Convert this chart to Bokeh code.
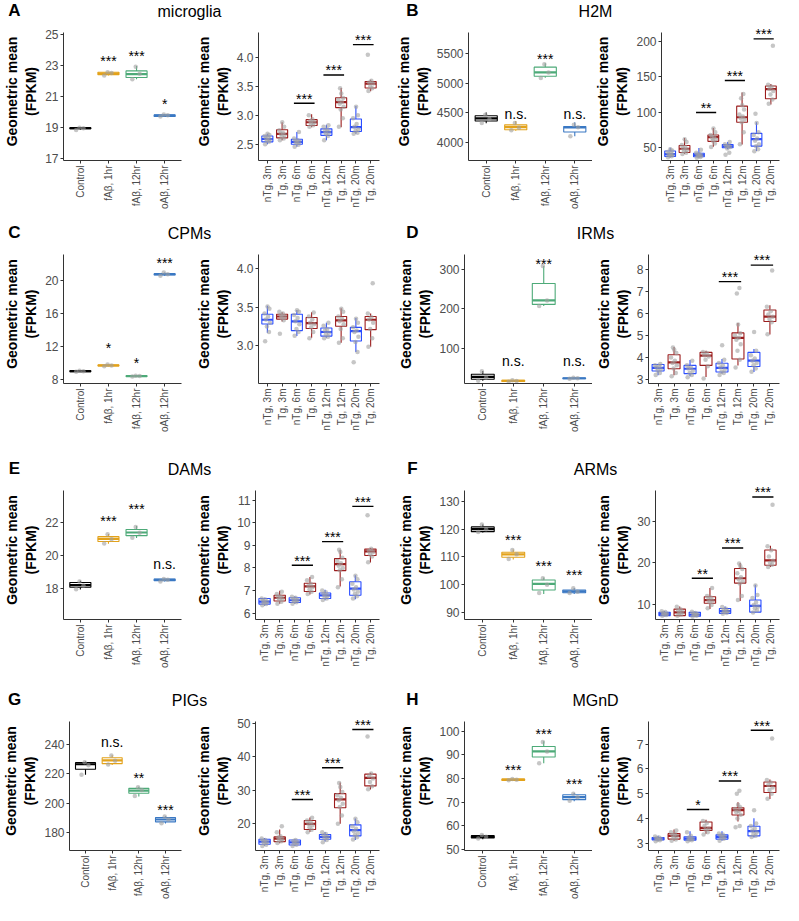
import math
from bokeh.plotting import figure
from bokeh.layouts import row, column
from bokeh.models import Range1d, FixedTicker, ColumnDataSource
from bokeh.embed import file_html
from bokeh.resources import INLINE
from bokeh.core.properties import value

FONT = "Liberation Sans"

LEFT_CATS = ["Control", "fAβ, 1hr", "fAβ, 12hr", "oAβ, 12hr"]
RIGHT_CATS = ["nTg, 3m", "Tg, 3m", "nTg, 6m", "Tg, 6m", "nTg, 12m", "Tg, 12m", "nTg, 20m", "Tg, 20m"]
LEFT_COLORS = ["#000000", "#E3A21A", "#4DAA78", "#3A78C3"]
RIGHT_COLORS = ["#2A4DFF", "#9B1C1C", "#2A4DFF", "#9B1C1C", "#2A4DFF", "#9B1C1C", "#2A4DFF", "#9B1C1C"]
Y_LABEL = "Geometric mean\n(FPKM)"

# ---------------- A: microglia ----------------
A_L_box = [[18.86, 18.93, 18.97, 19.0, 19.02], [22.35, 22.4, 22.47, 22.55, 22.58],
           [22.1, 22.22, 22.43, 22.64, 22.96], [19.7, 19.72, 19.78, 19.82, 19.86]]
A_L_pts = [[18.86, 18.97, 19.0], [22.35, 22.5, 22.55], [22.1, 22.45, 22.9], [19.72, 19.8, 19.85]]
A_L_sig = ["", "***", "***", "*"]
A_L_sig_y = [None, 23.74, 24.05, 21.0]
A_L_yr = [16.9, 25.1]
A_L_ticks = [17, 19, 21, 23, 25]
A_R_box = [[2.5, 2.54, 2.59, 2.642, 2.68], [2.57, 2.61, 2.68, 2.75, 2.88], [2.455, 2.5, 2.54, 2.585, 2.71],
           [2.795, 2.823, 2.88, 2.925, 3.02], [2.57, 2.653, 2.71, 2.766, 2.835], [2.795, 3.134, 3.23, 3.304, 3.474],
           [2.68, 2.72, 2.795, 2.936, 3.16], [3.417, 3.474, 3.55, 3.587, 3.615]]
A_R_pts = [[2.5, 2.54, 2.56, 2.58, 2.6, 2.62, 2.64, 2.66, 2.68],
           [2.57, 2.6, 2.63, 2.66, 2.68, 2.7, 2.74, 2.8, 2.88],
           [2.455, 2.49, 2.52, 2.54, 2.55, 2.57, 2.6, 2.71],
           [2.8, 2.83, 2.86, 2.88, 2.9, 2.93, 3.0],
           [2.57, 2.64, 2.68, 2.71, 2.73, 2.76, 2.8, 2.83],
           [2.8, 2.95, 3.1, 3.15, 3.2, 3.23, 3.27, 3.3, 3.38, 3.47],
           [2.68, 2.7, 2.73, 2.76, 2.8, 2.85, 2.95, 3.0, 3.15],
           [3.42, 3.47, 3.5, 3.55, 3.57, 3.6, 4.05]]
A_R_sig = ["", "***", "***", "***"]
A_R_sig_y = [None, 3.21, 3.70, 4.226]
A_R_yr = [2.217, 4.436]
A_R_ticks = [2.5, 3.0, 3.5, 4.0]

# ---------------- B: H2M ----------------
B_L_box = [[4327, 4365, 4409, 4453, 4507], [4202, 4218, 4262, 4300, 4365],
           [5091, 5118, 5184, 5271, 5336], [4109, 4180, 4256, 4273, 4344]]
B_L_pts = [[4330, 4400, 4470], [4210, 4250, 4330], [5090, 5180, 5320], [4110, 4260, 4300]]
B_L_sig = ["", "n.s.", "***", "n.s."]
B_L_sig_y = [None, 4545, 5527, 4545]
B_L_yr = [3700, 5854]
B_L_ticks = [4000, 4500, 5000, 5500]
B_R_box = [[36.4, 37.8, 41, 45.5, 50], [41, 43.2, 48.6, 53.2, 63.6], [36.4, 37.3, 39.6, 42.3, 49.5],
           [51.4, 59, 65, 68, 78], [48, 50, 52, 54.5, 58], [54.5, 86, 93, 108.7, 128],
           [45.5, 52.3, 62.2, 70.3, 86], [111, 119.1, 132.7, 137.2, 140]]
B_R_pts = [[36.5, 38, 39, 40, 41, 42, 44, 46, 48],
           [41, 43, 45, 47, 49, 51, 54, 58, 62],
           [36, 37, 38, 39, 40, 41, 43, 47],
           [51, 56, 60, 62, 64, 66, 68, 72, 77],
           [40, 43, 49, 51, 52, 53, 55, 58],
           [55, 72, 86, 90, 92, 94, 97, 104, 110, 120, 126],
           [45, 48, 52, 55, 60, 63, 68, 72, 85, 98],
           [112, 118, 125, 130, 133, 136, 139, 194]]
B_R_sig = ["", "**", "***", "***"]
B_R_sig_y = [None, 99.7, 144.9, 203.6]
B_R_yr = [32, 212.6]
B_R_ticks = [50, 100, 150, 200]

# ---------------- C: CPMs ----------------
C_L_box = [[8.98, 9.0, 9.05, 9.1, 9.12], [9.65, 9.7, 9.75, 9.8, 9.85],
           [8.4, 8.42, 8.46, 8.5, 8.52], [20.6, 20.7, 20.8, 20.85, 21.0]]
C_L_pts = [[8.98, 9.05, 9.1], [9.65, 9.75, 9.85], [8.4, 8.46, 8.5], [20.6, 20.8, 21.0]]
C_L_sig = ["", "*", "*", "***"]
C_L_sig_y = [None, 12.73, 10.98, 23.06]
C_L_yr = [7.56, 23.18]
C_L_ticks = [8, 12, 16, 20]
C_R_box = [[3.17, 3.283, 3.338, 3.409, 3.52], [3.316, 3.346, 3.38, 3.409, 3.435], [3.127, 3.198, 3.316, 3.409, 3.464],
           [3.105, 3.224, 3.295, 3.367, 3.435], [3.105, 3.127, 3.18, 3.232, 3.30], [3.04, 3.253, 3.33, 3.38, 3.485],
           [2.92, 3.063, 3.19, 3.24, 3.36], [2.99, 3.21, 3.338, 3.38, 3.42]]
C_R_pts = [[3.06, 3.18, 3.25, 3.3, 3.34, 3.38, 3.42, 3.48, 3.51],
           [3.156, 3.33, 3.36, 3.38, 3.4, 3.42, 3.44],
           [3.13, 3.18, 3.22, 3.28, 3.32, 3.36, 3.4, 3.44, 3.46],
           [3.1, 3.18, 3.24, 3.28, 3.3, 3.34, 3.38, 3.43],
           [3.1, 3.12, 3.15, 3.17, 3.2, 3.22, 3.26, 3.3],
           [3.04, 3.1, 3.22, 3.28, 3.32, 3.35, 3.38, 3.44, 3.48],
           [2.79, 2.92, 3.05, 3.12, 3.18, 3.2, 3.24, 3.3, 3.35],
           [2.99, 3.1, 3.22, 3.3, 3.34, 3.37, 3.42, 3.81]]
C_R_sig = ["", "", "", ""]
C_R_sig_y = [None, None, None, None]
C_R_yr = [2.515, 4.18]
C_R_ticks = [3.0, 3.5, 4.0]

# ---------------- D: IRMs ----------------
D_L_box = [[16.7, 20.8, 26.7, 33.3, 41.7], [14.2, 15, 16.7, 18.3, 19],
           [206.7, 210.8, 220.8, 264, 308], [22, 22.5, 23.3, 24, 25]]
D_L_pts = [[17, 25, 41], [14.5, 16.5, 18], [207, 221, 308], [22, 23.3, 24.5]]
D_L_sig = ["", "n.s.", "***", "n.s."]
D_L_sig_y = [None, 75, 333, 75]
D_L_yr = [10, 337.5]
D_L_ticks = [100, 200, 300]
D_R_box = [[3.19, 3.385, 3.53, 3.68, 3.71], [3.19, 3.49, 3.78, 4.125, 4.48], [3.15, 3.27, 3.49, 3.64, 3.89],
           [3.12, 3.64, 4.08, 4.23, 4.30], [3.27, 3.34, 3.53, 3.74, 3.93], [3.64, 3.93, 4.89, 5.115, 5.56],
           [3.34, 3.59, 3.86, 4.23, 4.38], [5.04, 5.63, 5.855, 6.15, 6.37]]
D_R_pts = [[3.2, 3.3, 3.4, 3.48, 3.55, 3.6, 3.65, 3.7],
           [3.15, 3.3, 3.5, 3.65, 3.75, 3.85, 4.0, 4.2, 4.35, 4.45],
           [3.1, 3.2, 3.3, 3.4, 3.5, 3.55, 3.65, 3.85],
           [3.05, 3.6, 3.9, 4.05, 4.1, 4.2, 4.25],
           [3.2, 3.3, 3.35, 3.45, 3.55, 3.65, 3.75, 3.9, 4.55],
           [3.55, 3.9, 4.3, 4.6, 4.8, 4.9, 5.0, 5.1, 5.5, 6.9, 7.15],
           [3.35, 3.5, 3.65, 3.75, 3.85, 3.95, 4.1, 4.3, 5.15],
           [5.05, 5.6, 5.75, 5.85, 5.95, 6.1, 6.3, 7.95]]
D_R_sig = ["", "", "***", "***"]
D_R_sig_y = [None, None, 7.44, 8.19]
D_R_yr = [2.82, 8.67]
D_R_ticks = [3, 4, 5, 6, 7, 8]

# ---------------- E: DAMs ----------------
E_L_box = [[17.96, 18.10, 18.23, 18.39, 18.49], [20.73, 20.87, 21.02, 21.16, 21.32],
           [21.08, 21.22, 21.41, 21.59, 21.8], [18.45, 18.5, 18.55, 18.6, 18.62]]
E_L_pts = [[17.98, 18.2, 18.45], [20.75, 21.0, 21.3], [21.1, 21.4, 21.75], [18.45, 18.55, 18.6]]
E_L_sig = ["", "***", "***", "n.s."]
E_L_sig_y = [None, 22.53, 23.27, 19.72]
E_L_yr = [16.15, 23.95]
E_L_ticks = [18, 20, 22]
E_R_box = [[6.33, 6.40, 6.51, 6.65, 6.68], [6.42, 6.54, 6.68, 6.79, 6.99], [6.42, 6.47, 6.57, 6.68, 6.75],
           [6.82, 6.96, 7.18, 7.32, 7.6], [6.57, 6.65, 6.79, 6.89, 7.03], [7.18, 7.88, 8.17, 8.41, 8.8],
           [6.61, 6.79, 7.08, 7.39, 7.67], [8.24, 8.55, 8.73, 8.83, 8.88]]
E_R_pts = [[6.35, 6.4, 6.45, 6.5, 6.55, 6.6, 6.65],
           [6.42, 6.5, 6.6, 6.65, 6.7, 6.75, 6.85, 6.95],
           [6.42, 6.48, 6.53, 6.58, 6.62, 6.68, 6.72],
           [6.85, 6.95, 7.05, 7.15, 7.2, 7.3, 7.45, 7.6],
           [6.58, 6.65, 6.72, 6.78, 6.85, 6.92, 7.0],
           [7.15, 7.5, 7.9, 8.0, 8.1, 8.2, 8.3, 8.45, 8.7, 8.8],
           [6.65, 6.75, 6.85, 6.95, 7.05, 7.15, 7.3, 7.5, 7.65],
           [8.25, 8.5, 8.6, 8.7, 8.75, 8.85, 10.33]]
E_R_sig = ["", "***", "***", "***"]
E_R_sig_y = [None, 8.12, 9.16, 10.72]
E_R_yr = [5.72, 11.42]
E_R_ticks = [6, 7, 8, 9, 10, 11]

# ---------------- F: ARMs ----------------
F_L_box = [[118.8, 119.1, 120, 120.8, 121.7], [109.1, 109.9, 110.9, 111.7, 112.7],
           [96.7, 98.1, 100.3, 101.7, 102.6], [96.7, 97.1, 97.6, 98.1, 98.8]]
F_L_pts = [[119, 120, 121.7], [109.3, 111, 112.5], [97, 100, 102.3], [97, 97.5, 98.7]]
F_L_sig = ["", "***", "***", "***"]
F_L_sig_y = [None, 118.8, 109.4, 106.2]
F_L_yr = [87.5, 133.9]
F_L_ticks = [90, 100, 110, 120, 130]
F_R_box = [[7.1, 7.25, 7.65, 8.04, 8.35], [7.1, 7.25, 8.04, 8.82, 9.45], [6.94, 7.1, 7.49, 8.04, 8.27],
           [8.82, 10.24, 11.0, 11.8, 13.9], [7.65, 7.8, 8.35, 8.98, 9.45], [10.78, 15.1, 16.27, 18.63, 19.96],
           [8.04, 8.1, 9.6, 11.0, 14.7], [19.0, 19.4, 20.6, 23.1, 24.1]]
F_R_pts = [[7.2, 7.4, 7.6, 7.7, 7.9, 8.1, 8.3],
           [7.2, 7.5, 7.8, 8.1, 8.5, 8.8, 9.4],
           [7.0, 7.2, 7.4, 7.55, 7.7, 7.9, 8.2],
           [9.0, 9.8, 10.5, 10.9, 11.2, 11.6, 12.0, 13.9],
           [7.7, 7.9, 8.1, 8.3, 8.6, 8.9, 9.3],
           [11.0, 12.0, 15.0, 15.5, 16.0, 16.5, 17.5, 18.5, 19.2, 19.8],
           [8.0, 8.5, 9.0, 9.4, 9.8, 10.5, 11.5, 12.2, 14.5],
           [19.0, 19.5, 20.0, 20.5, 21.5, 23.0, 24.0, 34.0]]
F_R_sig = ["", "**", "***", "***"]
F_R_sig_y = [None, 16.27, 23.57, 35.88]
F_R_yr = [6.31, 37.45]
F_R_ticks = [10, 20, 30]

# ---------------- G: PIGs ----------------
G_L_box = [[219.4, 223.2, 226.6, 227.7, 228.4], [226.1, 227, 229.3, 231, 232.8],
           [204.6, 206.9, 208.7, 210.2, 211.3], [186.3, 187.4, 189, 190.3, 191.2]]
G_L_pts = [[219.5, 226, 228], [226.5, 229, 232.5], [205, 209, 211], [186.5, 189, 191]]
G_L_sig = ["", "n.s.", "**", "***"]
G_L_sig_y = [None, 244, 222.1, 200.2]
G_L_yr = [167.9, 255.7]
G_L_ticks = [180, 200, 220, 240]
G_R_box = [[13.5, 13.9, 14.7, 15.4, 15.8], [14.2, 14.7, 15.6, 16.1, 18.3], [13.5, 13.7, 14.5, 15.2, 15.4],
           [17.6, 18.3, 20.0, 21.0, 21.9], [14.7, 15.4, 16.1, 16.8, 17.6], [20.0, 24.8, 27.3, 29.0, 32.3],
           [15.2, 16.4, 18.1, 19.7, 21.6], [30.2, 31.3, 33.7, 34.8, 35.2]]
G_R_pts = [[13.4, 13.8, 14.2, 14.6, 14.9, 15.2, 15.6],
           [14.3, 14.8, 15.2, 15.5, 15.9, 16.3, 17.5, 19.3],
           [13.4, 13.8, 14.2, 14.5, 14.9, 15.2],
           [17.5, 18.2, 19.0, 19.6, 20.0, 20.5, 21.0, 21.8],
           [14.5, 15.2, 15.7, 16.1, 16.5, 17.0, 17.5],
           [20.0, 22.5, 25.0, 26.0, 27.0, 27.8, 28.5, 29.5, 31.0, 32.2],
           [15.3, 16.0, 16.6, 17.2, 17.8, 18.5, 19.3, 20.5, 21.5],
           [30.3, 31.2, 32.5, 33.5, 34.2, 35.0, 46.0]]
G_R_sig = ["", "***", "***", "***"]
G_R_sig_y = [None, 27.25, 36.7, 48.1]
G_R_yr = [12.05, 50.5]
G_R_ticks = [20, 30, 40, 50]

# ---------------- H: MGnD ----------------
H_L_box = [[54.2, 54.7, 55.2, 55.7, 56.1], [79.1, 79.2, 79.5, 79.7, 79.9],
           [86.5, 89.1, 91.5, 93.6, 95.8], [70.3, 71.0, 72.1, 73.1, 73.8]]
H_L_pts = [[54.5, 55.2, 56], [79.2, 79.5, 79.8], [86.5, 91.5, 95.5], [70.5, 72, 73.5]]
H_L_sig = ["", "***", "***", "***"]
H_L_sig_y = [None, 86.8, 102.1, 80.9]
H_L_yr = [49.4, 104.2]
H_L_ticks = [50, 60, 70, 80, 90, 100]
H_R_box = [[3.10, 3.14, 3.19, 3.23, 3.30], [3.10, 3.17, 3.30, 3.39, 3.56], [3.10, 3.13, 3.19, 3.26, 3.49],
           [3.39, 3.52, 3.62, 3.86, 3.95], [3.10, 3.17, 3.26, 3.34, 3.49], [3.88, 4.14, 4.34, 4.43, 4.66],
           [3.23, 3.30, 3.49, 3.69, 4.01], [4.79, 5.05, 5.31, 5.47, 5.57]]
H_R_pts = [[3.08, 3.12, 3.15, 3.18, 3.2, 3.23, 3.27],
           [3.1, 3.15, 3.22, 3.28, 3.32, 3.38, 3.45, 3.52],
           [3.08, 3.12, 3.15, 3.18, 3.22, 3.3, 3.45],
           [3.35, 3.45, 3.55, 3.6, 3.7, 3.82, 3.9],
           [3.1, 3.18, 3.22, 3.26, 3.3, 3.35, 3.4],
           [3.65, 3.7, 4.0, 4.15, 4.25, 4.3, 4.38, 4.45, 4.55, 5.0, 5.12],
           [3.25, 3.3, 3.38, 3.45, 3.52, 3.6, 3.7, 3.8, 4.33],
           [4.8, 5.0, 5.15, 5.25, 5.35, 5.45, 5.55, 7.22]]
H_R_sig = ["", "*", "***", "***"]
H_R_sig_y = [None, 4.36, 5.51, 7.56]
H_R_yr = [2.71, 7.91]
H_R_ticks = [3, 4, 5, 6, 7]

PANELS = [
    ("A", "microglia", (A_L_box, A_L_pts, A_L_sig, A_L_sig_y, A_L_yr, A_L_ticks), (A_R_box, A_R_pts, A_R_sig, A_R_sig_y, A_R_yr, A_R_ticks)),
    ("B", "H2M", (B_L_box, B_L_pts, B_L_sig, B_L_sig_y, B_L_yr, B_L_ticks), (B_R_box, B_R_pts, B_R_sig, B_R_sig_y, B_R_yr, B_R_ticks)),
    ("C", "CPMs", (C_L_box, C_L_pts, C_L_sig, C_L_sig_y, C_L_yr, C_L_ticks), (C_R_box, C_R_pts, C_R_sig, C_R_sig_y, C_R_yr, C_R_ticks)),
    ("D", "IRMs", (D_L_box, D_L_pts, D_L_sig, D_L_sig_y, D_L_yr, D_L_ticks), (D_R_box, D_R_pts, D_R_sig, D_R_sig_y, D_R_yr, D_R_ticks)),
    ("E", "DAMs", (E_L_box, E_L_pts, E_L_sig, E_L_sig_y, E_L_yr, E_L_ticks), (E_R_box, E_R_pts, E_R_sig, E_R_sig_y, E_R_yr, E_R_ticks)),
    ("F", "ARMs", (F_L_box, F_L_pts, F_L_sig, F_L_sig_y, F_L_yr, F_L_ticks), (F_R_box, F_R_pts, F_R_sig, F_R_sig_y, F_R_yr, F_R_ticks)),
    ("G", "PIGs", (G_L_box, G_L_pts, G_L_sig, G_L_sig_y, G_L_yr, G_L_ticks), (G_R_box, G_R_pts, G_R_sig, G_R_sig_y, G_R_yr, G_R_ticks)),
    ("H", "MGnD", (H_L_box, H_L_pts, H_L_sig, H_L_sig_y, H_L_yr, H_L_ticks), (H_R_box, H_R_pts, H_R_sig, H_R_sig_y, H_R_yr, H_R_ticks)),
]

# ---------------- layout geometry ----------------
JIT = [-0.15, 0.11, -0.03, 0.17, -0.1, 0.05, -0.19, 0.14, 0.01, -0.07, 0.09, -0.13]
TITLE_H = 22
EXTRA = 10          # px of frame above the axis top (room for significance marks)
ROW_PLOT_H = [200, 214, 209, 192]
ROW_BB = [62, 75, 70, 53]
# (pair width, left fig w, bl, br, right fig w, bl, br, letter x, title x)
PAIR_GEOM = [
    (392, 192, 55, 11, 200, 58, 13, 14, 189),
    (391, 200, 72, 0, 191, 52, 4, 20, 203),
]
AXIS_COL = "#333333"
TICK_COL = "#4D4D4D"


def make_sub(cats, colors, data, width, bl, br, height, bb, right):
    box, pts, sig, sig_y, yr, ticks = data
    n = len(cats)
    fh = height - bb - EXTRA
    d = (yr[1] - yr[0]) / fh
    p = figure(width=width, height=height, x_range=Range1d(0.4, n + 0.6),
               y_range=Range1d(yr[0], yr[1] + EXTRA * d),
               output_backend="svg", toolbar_location=None,
               min_border_left=bl, min_border_right=br, min_border_top=0, min_border_bottom=bb)
    p.outline_line_color = None
    p.grid.visible = False
    xs = list(range(1, n + 1))
    src = ColumnDataSource(dict(
        x=xs, xl=[x - 0.375 for x in xs], xr=[x + 0.375 for x in xs],
        lo=[b[0] for b in box], q1=[b[1] for b in box], med=[b[2] for b in box],
        q3=[b[3] for b in box], hi=[b[4] for b in box], c=colors))
    p.segment(x0="x", y0="q3", x1="x", y1="hi", source=src, line_color="c", line_width=1.1)
    p.segment(x0="x", y0="lo", x1="x", y1="q1", source=src, line_color="c", line_width=1.1)
    p.vbar(x="x", width=0.75, bottom="q1", top="q3", source=src, fill_color="white",
           line_color="c", line_width=1.1)
    p.segment(x0="xl", y0="med", x1="xr", y1="med", source=src, line_color="c", line_width=2.2)
    px, py = [], []
    for i, vals in enumerate(pts):
        for k, v in enumerate(vals):
            px.append(i + 1 + JIT[k % len(JIT)])
            py.append(v)
    p.scatter(px, py, size=4.5, fill_color="#A0A0A0", fill_alpha=0.6, line_color=None)

    tx, ty, tt = [], [], []
    if right:
        lx0, lx1, ly = [], [], []
        for k, (s, y) in enumerate(zip(sig, sig_y)):
            if s:
                i, j = 2 * k + 1, 2 * k + 2
                lx0.append(i - 0.2)
                lx1.append(j + 0.2)
                ly.append(y)
                tx.append((i + j) / 2)
                ty.append(y + 4.6 * d)
                tt.append(s)
        if lx0:
            p.segment(x0=lx0, y0=ly, x1=lx1, y1=ly, line_color="black", line_width=1.4)
    else:
        for i, (s, y) in enumerate(zip(sig, sig_y)):
            if s:
                tx.append(i + 1)
                ty.append(y - (7.4 if "*" in s else 3.4) * d)
                tt.append(s)
    if tt:
        p.text(x=tx, y=ty, text=tt, text_font=value(FONT), text_font_size="14px",
               text_align="center", text_baseline="alphabetic", text_color="black")

    p.xaxis.ticker = FixedTicker(ticks=xs)
    p.xaxis.major_label_overrides = {x: c for x, c in zip(xs, cats)}
    p.xaxis.major_label_orientation = math.pi / 2
    p.xaxis.major_label_text_font_size = "10px"
    p.yaxis.ticker = FixedTicker(ticks=ticks)
    p.yaxis.bounds = (yr[0], yr[1])
    if all(float(t).is_integer() for t in ticks):
        p.yaxis.major_label_overrides = {t: str(int(t)) for t in ticks}
    else:
        p.yaxis.major_label_overrides = {t: f"{t:.1f}" for t in ticks}
    p.yaxis.major_label_text_font_size = "12px"
    p.yaxis.axis_label = Y_LABEL
    p.yaxis.axis_label_text_font = FONT
    p.yaxis.axis_label_text_font_size = "14px"
    p.yaxis.axis_label_text_font_style = "bold"
    p.yaxis.axis_label_text_color = "black"
    p.yaxis.axis_label_standoff = 3
    for ax in (p.xaxis, p.yaxis):
        ax.major_label_text_font = FONT
        ax.major_label_text_color = TICK_COL
        ax.axis_line_color = AXIS_COL
        ax.axis_line_width = 1
        ax.major_tick_line_color = AXIS_COL
        ax.major_tick_out = 3
        ax.major_tick_in = 0
        ax.minor_tick_out = 0
        ax.minor_tick_in = 0
        ax.major_label_standoff = 2
    return p


def title_fig(w, letter, title, lx, tx):
    p = figure(width=w, height=TITLE_H, x_range=Range1d(0, w), y_range=Range1d(0, TITLE_H),
               output_backend="svg", toolbar_location=None, min_border=0,
               x_axis_location=None, y_axis_location=None)
    p.outline_line_color = None
    p.grid.visible = False
    p.text(x=[lx], y=[TITLE_H - 10], text=[letter], text_font=value(FONT), text_font_size="17px",
           text_font_style="bold", text_align="center", text_baseline="middle", text_color="black")
    p.text(x=[tx], y=[TITLE_H - 11], text=[title], text_font=value(FONT), text_font_size="16px",
           text_align="center", text_baseline="middle", text_color="black")
    return p


rows = []
for r in range(4):
    pairs = []
    for c in range(2):
        letter, title, ldata, rdata = PANELS[2 * r + c]
        pw, lw, lbl, lbr, rw, rbl, rbr, lx, tx = PAIR_GEOM[c]
        h = ROW_PLOT_H[r]
        bb = ROW_BB[r]
        tf = title_fig(pw, letter, title, lx, tx)
        lf = make_sub(LEFT_CATS, LEFT_COLORS, ldata, lw, lbl, lbr, h, bb, False)
        rf = make_sub(RIGHT_CATS, RIGHT_COLORS, rdata, rw, rbl, rbr, h, bb, True)
        pairs.append(column(tf, row(lf, rf)))
    rows.append(row(*pairs))

page = column(*rows)
open("out.html", "w").write(file_html(page, INLINE))
